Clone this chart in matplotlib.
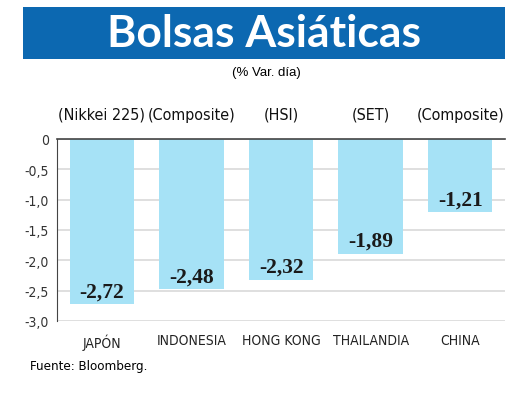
import matplotlib
matplotlib.use("Agg")
import matplotlib.pyplot as plt
import matplotlib.patches as patches
from matplotlib import font_manager

# data
countries = ["JAPÓN", "INDONESIA", "HONG KONG", "THAILANDIA", "CHINA"]
indices = ["(Nikkei 225)", "(Composite)", "(HSI)", "(SET)", "(Composite)"]
changes = [-2.72, -2.48, -2.32, -1.89, -1.21]
yticks = [0, -0.5, -1.0, -1.5, -2.0, -2.5, -3.0]
ytick_labels = ["0", "-0,5", "-1,0", "-1,5", "-2,0", "-2,5", "-3,0"]

BAR_COLOR = "#A6E2F6"
BANNER_COLOR = "#0C68B1"

# look for a narrow face, the reference uses a condensed sans
narrow = [f for f in font_manager.fontManager.ttflist
          if ("narrow" in f.name.lower() or "condensed" in f.name.lower()
              or str(f.stretch).lower() in ("condensed", "semi-condensed"))
          and f.weight in (400, "normal", "regular")
          and f.style == "normal"]
if narrow:
    NARROW_PROP = dict(fname=narrow[0].fname)
    cond = True
else:
    NARROW_PROP = dict(family=["Liberation Sans", "DejaVu Sans"])
    cond = False


def nfont(size):
    p = font_manager.FontProperties(**NARROW_PROP)
    p.set_size(size if cond else size * 0.85)
    return p


fig = plt.figure(figsize=(5.2, 4.02), dpi=100)

# title banner
banner = patches.Rectangle((23 / 520, 1 - 60 / 402), 482 / 520, 52 / 402,
                           transform=fig.transFigure, facecolor=BANNER_COLOR,
                           edgecolor="none")
fig.patches.append(banner)
fig.text(264 / 520, 1 - 34 / 402, "Bolsas Asiáticas", color="white",
         fontsize=32, fontweight="bold", ha="center", va="center",
         family=["Lato", "DejaVu Sans"])
fig.text(266 / 520, 1 - 73 / 402, "(% Var. día)", fontsize=9.5,
         ha="center", va="center", family=["Liberation Sans", "DejaVu Sans"])

ax = fig.add_axes([57 / 520, 1 - 322 / 402, 448 / 520, 182 / 402])
x = list(range(len(countries)))
bars = ax.bar(x, changes, width=0.72, color=BAR_COLOR, zorder=2)

ax.set_xlim(-0.5, len(countries) - 0.5)
ax.set_ylim(-3.0, 0)
ax.set_yticks(yticks)
ax.set_yticklabels(ytick_labels, fontproperties=nfont(10), color="#333333")
ax.set_xticks(x)
ax.set_xticklabels(countries, fontproperties=nfont(10), color="#222222")
ax.tick_params(axis="both", length=0, pad=6)
ax.tick_params(axis="x", pad=9)

ax.grid(axis="y", color="#D9D9D9", linewidth=1.2, zorder=0)
for side in ["right", "bottom"]:
    ax.spines[side].set_visible(False)
ax.spines["left"].set_color("#444444")
ax.spines["top"].set_color("#444444")
ax.spines["top"].set_linewidth(1.2)

for rect, val in zip(bars, changes):
    label = f"{val:.2f}".replace(".", ",")
    ax.annotate(label, (rect.get_x() + rect.get_width() / 2, val),
                xytext=(0, 2), textcoords="offset points", ha="center",
                va="bottom", fontsize=15.5, fontweight="bold", color="#1A1A1A",
                family=["Liberation Serif", "DejaVu Serif"], zorder=3)

# index names above the plot
for xi, name in zip(x, indices):
    ax.text(xi, 1.135, name, transform=ax.get_xaxis_transform(), ha="center",
            va="center", fontproperties=nfont(11.5), color="#111111")

fig.text(30 / 520, 1 - 367 / 402, "Fuente: Bloomberg.",
         ha="left", va="center", fontproperties=nfont(9.5))

fig.savefig("out.png", dpi=100, facecolor="white")
